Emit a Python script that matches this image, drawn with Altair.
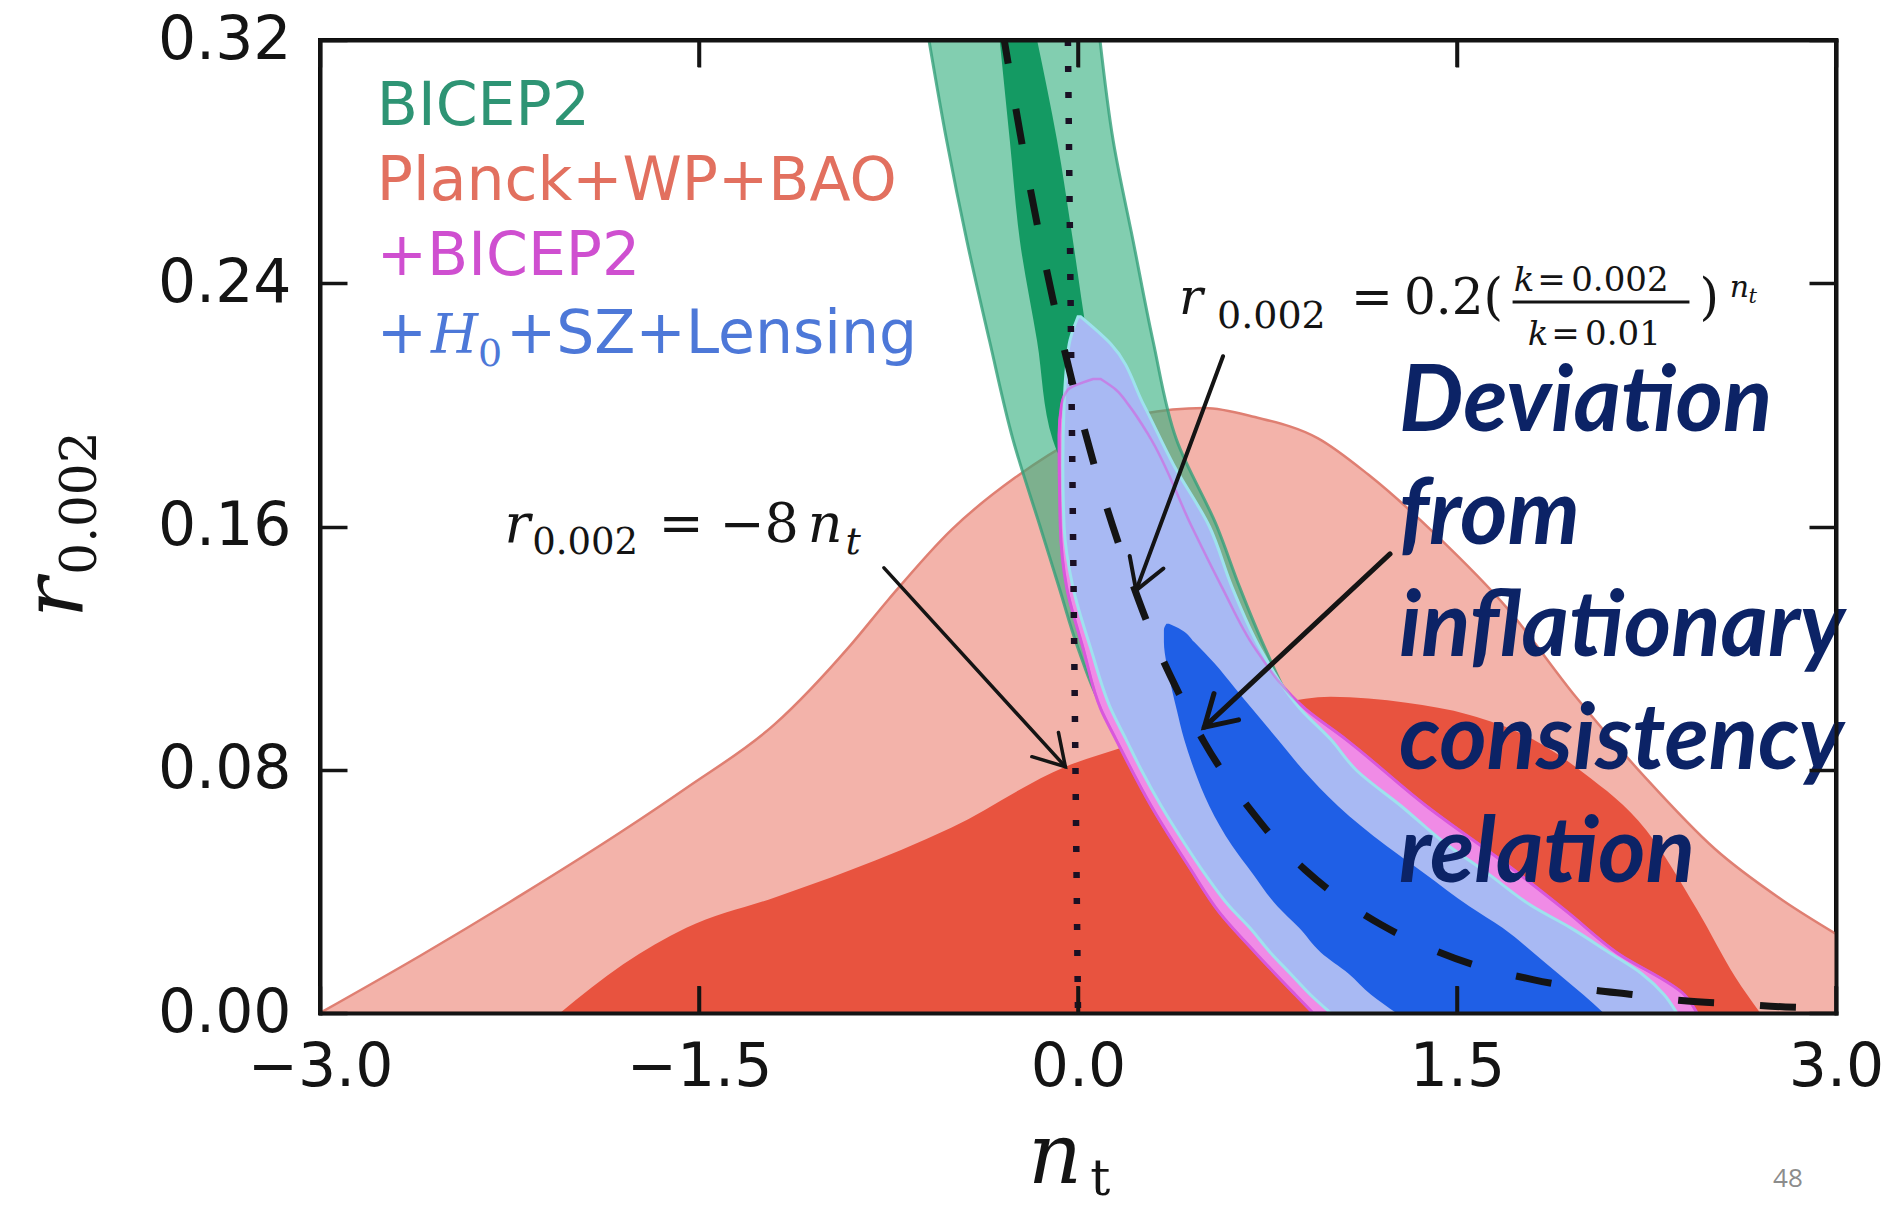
import math

import altair as alt
import pandas as pd

# ---------------------------------------------------------------------------
# Plot geometry
# ---------------------------------------------------------------------------
W, H = 1516, 973
PAD = {"left": 320, "top": 40, "right": 67, "bottom": 193}
TICK_PX = 27

NT_DOMAIN = [-3.0, 3.0]
R_DOMAIN = [0.0, 0.32]
NT_TICKS = [-3.0, -1.5, 0.0, 1.5, 3.0]
R_TICKS = [0.0, 0.08, 0.16, 0.24, 0.32]

# ---------------------------------------------------------------------------
# Planck+WP+BAO: upper edge of the 95% and 68% regions, r(n_t)
# ---------------------------------------------------------------------------
PLANCK95_NT = [-3.0, -2.6, -2.2, -1.8, -1.55, -1.2, -0.9, -0.75, -0.5, -0.25, 0.0,
               0.25, 0.5, 0.7, 0.95, 1.15, 1.42, 1.7, 1.97, 2.25, 2.52, 2.79, 3.0]
PLANCK95_R = [0.0, 0.019, 0.039, 0.060, 0.074, 0.095, 0.121, 0.136, 0.159, 0.176, 0.189,
              0.197, 0.199, 0.196, 0.189, 0.177, 0.157, 0.133, 0.104, 0.077, 0.054, 0.037, 0.026]

PLANCK68_NT = [-2.05, -1.8, -1.55, -1.2, -0.9, -0.5, -0.05, 0.2, 0.5, 0.8, 1.0,
               1.3, 1.55, 1.8, 2.0, 2.25, 2.45, 2.6, 2.7]
PLANCK68_R = [0.0, 0.016, 0.028, 0.038, 0.047, 0.061, 0.081, 0.088, 0.096, 0.102, 0.104,
              0.102, 0.098, 0.090, 0.079, 0.060, 0.034, 0.012, 0.0]

# ---------------------------------------------------------------------------
# Bands given as n_t limits at each r
# ---------------------------------------------------------------------------
# BICEP2
BICEP95_R = [0.0, 0.04, 0.08, 0.10, 0.12, 0.14, 0.16, 0.1885, 0.221, 0.254, 0.287, 0.32]
BICEP95_LO = [1.05, 0.62, 0.29, 0.10, 0.0, -0.075, -0.15, -0.257, -0.35, -0.44, -0.52, -0.59]
BICEP95_HI = [2.2, 1.6, 1.05, 0.86, 0.74, 0.64, 0.55, 0.39, 0.297, 0.218, 0.139, 0.087]

BICEP68_R = [0.10, 0.14, 0.17, 0.1885, 0.221, 0.254, 0.287, 0.32]
BICEP68_LO = [0.40, 0.15, 0.0, -0.10, -0.162, -0.23, -0.27, -0.31]
BICEP68_HI = [0.55, 0.40, 0.20, 0.12, 0.04, -0.02, -0.083, -0.162]

# Planck+WP+BAO+BICEP2
PB95_R = [0.0, 0.006, 0.02, 0.033, 0.048, 0.068, 0.09, 0.10, 0.12, 0.14, 0.16, 0.19, 0.20, 0.205, 0.2085]
PB95_LO = [0.93, 0.86, 0.70, 0.56, 0.44, 0.29, 0.15, 0.09, 0.02, -0.045, -0.07, -0.075, -0.065, -0.04, 0.06]
PB95_HI = [2.45, 2.40, 2.13, 1.94, 1.71, 1.38, 1.06, 0.90, 0.70, 0.57, 0.45, 0.28, 0.20, 0.15, 0.09]

# ... +H0+SZ+Lensing
LENS95_R = [0.0, 0.006, 0.013, 0.02, 0.028, 0.035, 0.046, 0.056, 0.068, 0.08, 0.09,
            0.10, 0.12, 0.14, 0.16, 0.18, 0.20, 0.22, 0.229]
LENS95_LO = [1.0, 0.92, 0.84, 0.76, 0.68, 0.60, 0.50, 0.42, 0.33, 0.25, 0.19,
             0.13, 0.05, -0.02, -0.055, -0.06, -0.055, -0.035, 0.0]
LENS95_HI = [2.37, 2.32, 2.23, 2.10, 1.95, 1.80, 1.62, 1.45, 1.28, 1.10, 1.0,
             0.88, 0.72, 0.61, 0.52, 0.38, 0.26, 0.13, 0.01]

LENS68_R = [0.0, 0.006, 0.013, 0.02, 0.028, 0.035, 0.046, 0.055, 0.068, 0.08, 0.09,
            0.10, 0.107, 0.115, 0.122, 0.126, 0.128]
LENS68_LO = [1.26, 1.16, 1.07, 0.96, 0.875, 0.79, 0.69, 0.61, 0.52, 0.46, 0.42,
             0.39, 0.37, 0.35, 0.34, 0.34, 0.35]
LENS68_HI = [2.08, 2.0, 1.90, 1.80, 1.68, 1.55, 1.37, 1.22, 1.03, 0.89, 0.79,
             0.69, 0.62, 0.54, 0.46, 0.41, 0.36]

# ---------------------------------------------------------------------------
# Reference curves
# ---------------------------------------------------------------------------
# r = -8 n_t
CONS_NT = [-0.04, 0.0]
CONS_R = [0.32, 0.0]

# r = 0.2 (0.002/0.01)^n_t
TILT_NT = [-0.30, -0.2, -0.1, 0.0, 0.1, 0.2, 0.3, 0.4, 0.5, 0.6, 0.7, 0.8, 0.9, 1.0,
           1.2, 1.4, 1.6, 1.8, 2.0, 2.2, 2.4, 2.6, 2.8, 3.0]
TILT_R = [0.324, 0.276, 0.235, 0.200, 0.170, 0.145, 0.123, 0.105, 0.089, 0.076, 0.065,
          0.055, 0.047, 0.040, 0.029, 0.021, 0.015, 0.011, 0.008, 0.006, 0.004, 0.003,
          0.002, 0.0016]

# Annotation arrows: tail (nt0, r0) -> head (nt1, r1)
ARROW_NT0 = [-0.768, 0.574, 1.235]
ARROW_R0 = [0.1464, 0.216, 0.151]
ARROW_NT1 = [-0.05, 0.23, 0.50]
ARROW_R1 = [0.081, 0.139, 0.094]

# Side note text
DEVIATION_LINES = ["Deviation", "from", "inflationary", "consistency", "relation"]

# ---------------------------------------------------------------------------
# Styles
# ---------------------------------------------------------------------------
INK = "#141414"
SANS = "DejaVu Sans"
SERIF = "DejaVu Serif"
LIGHT_RED = "#f3b3aa"
LIGHT_RED_EDGE = "#df7f72"
DARK_RED = "#e8533f"
GREEN_95 = "#2fae7c"
GREEN_95_EDGE = "#35a07a"
GREEN_68 = "#149a63"
MAGENTA_FILL = "#f08be6"
MAGENTA_EDGE = "#d957dc"
BLUE_95 = "#a8b9f3"
BLUE_95_EDGE = "#9ee2ee"
BLUE_68 = "#1f5fe6"
NAVY = "#0c2366"

XS = alt.Scale(domain=NT_DOMAIN, nice=False, zero=False)
YS = alt.Scale(domain=R_DOMAIN, nice=False, zero=False)

px_per_nt = W / (NT_DOMAIN[1] - NT_DOMAIN[0])
px_per_r = H / (R_DOMAIN[1] - R_DOMAIN[0])


def xq(field, axis=None):
    return alt.X(f"{field}:Q", scale=XS, axis=axis)


def yq(field, axis=None):
    return alt.Y(f"{field}:Q", scale=YS, axis=axis, stack=None)


def upper_area(nt, r, **mark):
    df = pd.DataFrame({"nt": nt, "r": r})
    return alt.Chart(df).mark_area(clip=True, interpolate="monotone", **mark).encode(
        x=xq("nt"), y=yq("r")
    )


def hband(r, lo, hi, **mark):
    df = pd.DataFrame({"r": r, "lo": lo, "hi": hi})
    return alt.Chart(df).mark_area(
        orient="horizontal", clip=True, interpolate="monotone", **mark
    ).encode(y=yq("r"), x=xq("lo"), x2=alt.X2("hi:Q"))


def curve(nt, r, **mark):
    df = pd.DataFrame({"nt": nt, "r": r})
    return alt.Chart(df).mark_line(clip=True, **mark).encode(x=xq("nt"), y=yq("r"))


def piece(txt, nt, r, size, font=SERIF, style="normal", color=INK,
          align="left", angle=None, weight="normal"):
    props = dict(text=txt, font=font, fontSize=size, fontStyle=style,
                 fontWeight=weight, color=color, align=align, baseline="alphabetic")
    if angle is not None:
        props["angle"] = angle
    df = pd.DataFrame({"nt": [nt], "r": [r]})
    return alt.Chart(df).mark_text(**props).encode(x=xq("nt"), y=yq("r"))


layers = []

# --- axes: labels, then inward ticks + frame on the sides --------------------
tick_df = pd.DataFrame({"nt": NT_TICKS, "r": R_TICKS})
label_style = dict(labelFont=SANS, labelFontSize=60, labelColor=INK, ticks=False,
                   domain=False, grid=False, title=None, labelFlush=False,
                   labelOverlap=False)
layers.append(
    alt.Chart(tick_df).mark_point(opacity=0).encode(
        x=xq("nt", alt.Axis(orient="bottom", values=NT_TICKS, format=".1f",
                            labelPadding=25, **label_style)),
        y=yq("r", alt.Axis(orient="left", values=R_TICKS, format=".2f",
                           labelPadding=29, **label_style)),
    )
)
tick_style = dict(labels=False, grid=False, ticks=True, tickSize=TICK_PX, tickWidth=3.5,
                  tickColor=INK, domain=True, domainColor=INK, domainWidth=4,
                  domainCap="square", title=None, zindex=2)
for x_orient, y_orient in [("top", "right"), ("bottom", "left")]:
    layers.append(
        alt.Chart(tick_df).mark_point(opacity=0).encode(
            x=xq("nt", alt.Axis(orient=x_orient, offset=-H, values=NT_TICKS, **tick_style)),
            y=yq("r", alt.Axis(orient=y_orient, offset=-W, values=R_TICKS, **tick_style)),
        )
    )

# --- Planck+WP+BAO ---------------------------------------------------------
layers.append(upper_area(PLANCK95_NT, PLANCK95_R, color=LIGHT_RED,
                         stroke=LIGHT_RED_EDGE, strokeWidth=2.5))
layers.append(upper_area(PLANCK68_NT, PLANCK68_R, color=DARK_RED))

# --- BICEP2 ----------------------------------------------------------------
layers.append(hband(BICEP95_R, BICEP95_LO, BICEP95_HI, color=GREEN_95, fillOpacity=0.6,
                    stroke=GREEN_95_EDGE, strokeWidth=3, strokeOpacity=0.8))
layers.append(hband(BICEP68_R, BICEP68_LO, BICEP68_HI, color=GREEN_68))

# --- +BICEP2 and +H0+SZ+Lensing -------------------------------------------
layers.append(hband(PB95_R, PB95_LO, PB95_HI, color=MAGENTA_FILL,
                    stroke=MAGENTA_EDGE, strokeWidth=3))
layers.append(hband(LENS95_R, LENS95_LO, LENS95_HI, color=BLUE_95,
                    stroke=BLUE_95_EDGE, strokeWidth=3))
layers.append(hband(PB95_R, PB95_LO, PB95_HI, fillOpacity=0, stroke=MAGENTA_EDGE,
                    strokeWidth=2.5, strokeOpacity=0.55))
layers.append(hband(LENS68_R, LENS68_LO, LENS68_HI, color=BLUE_68))

# --- inward n_t ticks along the bottom and top edges, above the fills -------
tick_r = TICK_PX / px_per_r
xtick_df = pd.DataFrame({
    "nt": NT_TICKS * 2,
    "r0": [R_DOMAIN[0]] * len(NT_TICKS) + [R_DOMAIN[1] - tick_r] * len(NT_TICKS),
    "r1": [R_DOMAIN[0] + tick_r] * len(NT_TICKS) + [R_DOMAIN[1]] * len(NT_TICKS),
})
layers.append(
    alt.Chart(xtick_df).mark_rule(color=INK, strokeWidth=3.5).encode(
        x=xq("nt"), y=yq("r0"), y2=alt.Y2("r1:Q")
    )
)

# --- reference relations ---------------------------------------------------
layers.append(curve(CONS_NT, CONS_R, color="#1a1024", strokeWidth=6.5,
                    strokeDash=[6, 20], strokeCap="butt"))
layers.append(curve(TILT_NT, TILT_R, color=INK, strokeWidth=7,
                    strokeDash=[36, 46], strokeCap="butt", interpolate="monotone"))

# --- arrows ----------------------------------------------------------------
arrow_angle = []
for a0, b0, a1, b1 in zip(ARROW_NT0, ARROW_R0, ARROW_NT1, ARROW_R1):
    dxp = (a1 - a0) * px_per_nt
    dyp = -(b1 - b0) * px_per_r
    arrow_angle.append(math.degrees(math.atan2(dxp, -dyp)) % 360)
arrow_df = pd.DataFrame({
    "nt0": ARROW_NT0, "r0": ARROW_R0, "nt1": ARROW_NT1, "r1": ARROW_R1,
    "w": [3.5, 4.0, 5.0], "angle": arrow_angle,
})
layers.append(
    alt.Chart(arrow_df).mark_rule(color=INK, strokeCap="round").encode(
        x=xq("nt0"), y=yq("r0"), x2=alt.X2("nt1:Q"), y2=alt.Y2("r1:Q"),
        strokeWidth=alt.StrokeWidth("w:Q", scale=None),
    )
)
layers.append(
    alt.Chart(arrow_df).mark_point(
        shape="M -0.6 1 L 0 0 L 0.6 1", filled=False, size=3600, color=INK,
        strokeCap="round", opacity=1,
    ).encode(
        x=xq("nt1"), y=yq("r1"),
        angle=alt.Angle("angle:Q", scale=None),
        strokeWidth=alt.StrokeWidth("w:Q", scale=None),
    )
)

# --- r = -8 n_t label --------------------------------------------------------
layers += [
    piece("r", -2.27, 0.155, 54, style="italic"),
    piece("0.002", -2.16, 0.151, 37),
    piece("=", -1.66, 0.155, 54),
    piece("\u22128", -1.42, 0.155, 54),
    piece("n", -1.07, 0.155, 54, style="italic"),
    piece("t", -0.92, 0.151, 38, style="italic"),
]

# --- r = 0.2 (k ratio)^n_t label ----------------------------------------------
layers += [
    piece("r", 0.40, 0.230, 50, style="italic"),
    piece("0.002", 0.55, 0.2253, 38),
    piece("=", 1.08, 0.230, 50),
    piece("0.2(", 1.29, 0.230, 50),
    piece("k", 1.725, 0.2374, 34, style="italic"),
    piece("=", 1.818, 0.2374, 34),
    piece("0.002", 1.952, 0.2374, 34),
    piece("k", 1.780, 0.2198, 34, style="italic"),
    piece("=", 1.873, 0.2198, 34),
    piece("0.01", 2.007, 0.2198, 34),
    piece(")", 2.46, 0.230, 50),
    piece("n", 2.579, 0.2355, 30, style="italic"),
    piece("t", 2.654, 0.2335, 21, style="italic"),
]
bar_df = pd.DataFrame({"a": [1.72], "b": [2.42], "r": [0.2338]})
layers.append(
    alt.Chart(bar_df).mark_rule(color=INK, strokeWidth=3).encode(
        x=xq("a"), x2=alt.X2("b:Q"), y=yq("r")
    )
)

# --- legend text --------------------------------------------------------------
BLUE_TXT = "#4d78d8"
layers += [
    piece("BICEP2", -2.775, 0.2920, 60, font=SANS, color="#2e9474"),
    piece("Planck+WP+BAO", -2.775, 0.2674, 60, font=SANS, color="#e2705f"),
    piece("+BICEP2", -2.775, 0.2427, 60, font=SANS, color="#cf4fd0"),
    piece("+", -2.775, 0.2171, 60, font=SANS, color=BLUE_TXT),
    piece("H", -2.561, 0.2171, 54, style="italic", color=BLUE_TXT),
    piece("0", -2.375, 0.2128, 38, color=BLUE_TXT),
    piece("+SZ+Lensing", -2.264, 0.2171, 60, font=SANS, color=BLUE_TXT),
]

# --- axis titles ----------------------------------------------------------------
layers += [
    piece("n", -0.198, -0.0559, 84, style="italic"),
    piece("t", 0.048, -0.0600, 50),
    piece("r", -3.942, 0.1365, 84, style="italic", align="center", angle=270),
    piece("0.002", -3.887, 0.1677, 50, align="center", angle=270),
]

# --- side note ----------------------------------------------------------------
dev_df = pd.DataFrame({
    "line": DEVIATION_LINES,
    "nt": [1.27] * len(DEVIATION_LINES),
    "r": [0.1914, 0.1542, 0.1174, 0.0802, 0.0431],
})
layers.append(
    alt.Chart(dev_df).mark_text(
        font="Lato", fontSize=91, fontStyle="italic", fontWeight="bold",
        color=NAVY, align="left", baseline="alphabetic",
    ).encode(x=xq("nt"), y=yq("r"), text="line:N")
)

layers.append(piece("48", 2.751, -0.0572, 26, font="Open Sans", color="#8c8c8c"))

chart = (
    alt.layer(*layers)
    .resolve_axis(x="independent", y="independent")
    .properties(width=W, height=H, padding=PAD,
                autosize=alt.AutoSizeParams(type="none"), background="white")
    .configure_view(stroke="black", strokeWidth=4)
)

chart.save("out.html", embed_options={"renderer": "svg", "actions": False})
